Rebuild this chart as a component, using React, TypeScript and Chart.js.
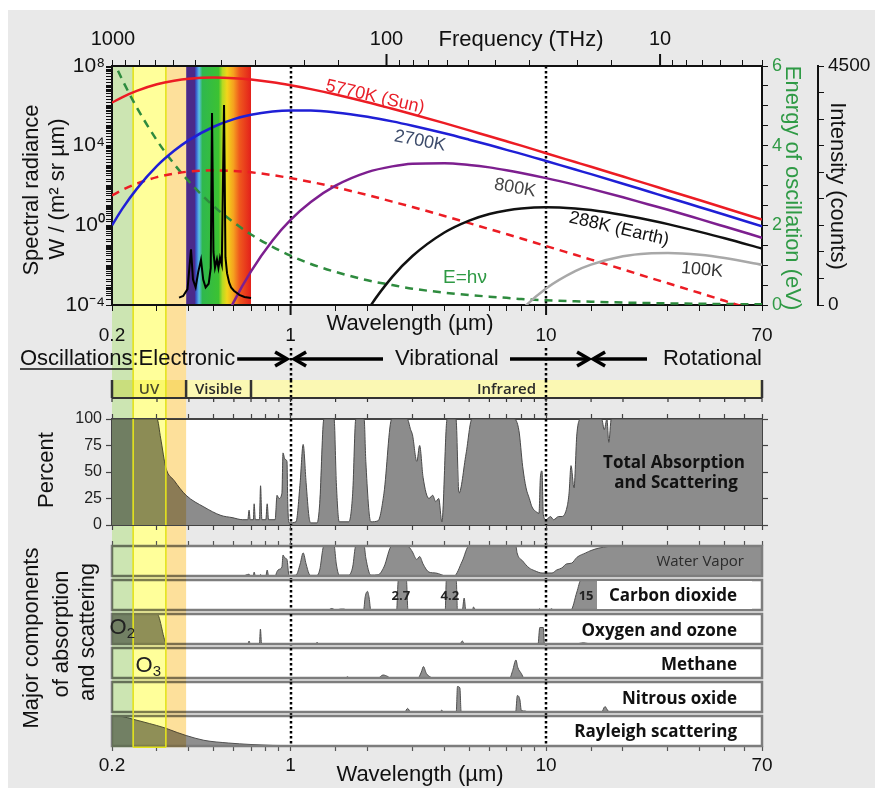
import React, { useEffect, useRef } from 'react';
import { Chart, registerables } from 'chart.js';

Chart.register(...registerables);

const SANS = "'Liberation Sans', Arial, Helvetica, sans-serif";
const BOLD = "'Open Sans', 'Liberation Sans', Arial, sans-serif";
Chart.defaults.font.family = SANS;
Chart.defaults.color = '#111';

// ---------------- DATA: upper panel ----------------
const wavelengths = [0.2, 0.22, 0.25, 0.3, 0.35, 0.4, 0.5, 0.6, 0.7, 0.85, 1, 1.2, 1.5, 2, 2.5, 3, 4, 5, 6, 7, 8, 10, 13, 15, 20, 25, 30, 40, 50, 70];
// log10 of spectral radiance, W/(m2 sr um)
const logRad5770 = [6.16, 6.44, 6.75, 7.08, 7.26, 7.36, 7.42, 7.39, 7.32, 7.18, 7.03, 6.84, 6.57, 6.18, 5.85, 5.58, 5.13, 4.77, 4.47, 4.22, 4.0, 3.62, 3.18, 2.94, 2.45, 2.07, 1.75, 1.26, 0.87, 0.29];
const logRad2700 = [0.0, 0.85, 1.83, 2.98, 3.74, 4.28, 4.95, 5.33, 5.55, 5.71, 5.76, 5.76, 5.67, 5.45, 5.22, 5.0, 4.62, 4.3, 4.03, 3.79, 3.59, 3.23, 2.8, 2.57, 2.09, 1.71, 1.4, 0.91, 0.53, -0.05];
const logRad800 = [null, null, null, null, null, null, -6.04, -3.83, -2.31, -0.76, 0.27, 1.17, 1.99, 2.67, 2.96, 3.09, 3.12, 3.03, 2.91, 2.77, 2.63, 2.37, 2.03, 1.83, 1.41, 1.06, 0.78, 0.31, -0.06, -0.62];
const logRad288 = [null, null, null, null, null, null, null, null, null, null, null, null, -7.27, -4.28, -2.59, -1.54, -0.36, 0.24, 0.57, 0.75, 0.85, 0.91, 0.85, 0.77, 0.52, 0.28, 0.06, -0.33, -0.65, -1.17];
const logRad100 = [null, null, null, null, null, null, null, null, null, null, null, null, null, null, null, null, null, null, null, -5.08, -4.25, -3.17, -2.3, -1.97, -1.55, -1.41, -1.39, -1.48, -1.64, -1.98];
const logSunAtEarth = [1.5, 1.78, 2.09, 2.42, 2.6, 2.7, 2.76, 2.73, 2.66, 2.52, 2.37, 2.18, 1.91, 1.52, 1.19, 0.92, 0.47, 0.11, -0.19, -0.44, -0.66, -1.04, -1.48, -1.72, -2.21, -2.6, -2.91, -3.4, -3.79, -4.37];
const photonEnergyEV = [6.2, 5.64, 4.96, 4.13, 3.54, 3.1, 2.48, 2.07, 1.77, 1.46, 1.24, 1.03, 0.83, 0.62, 0.5, 0.41, 0.31, 0.25, 0.21, 0.18, 0.15, 0.12, 0.095, 0.083, 0.062, 0.05, 0.041, 0.031, 0.025, 0.018];

const spectrumWl = [0.366, 0.38, 0.395, 0.4076, 0.415, 0.425, 0.435, 0.446, 0.455, 0.465, 0.478, 0.487, 0.4926, 0.499, 0.506, 0.515, 0.522, 0.5294, 0.538, 0.5489, 0.556, 0.564, 0.575, 0.585, 0.6, 0.611, 0.63, 0.66, 0.7];
const spectrumCounts = [140, 170, 300, 1050, 480, 330, 620, 850, 480, 330, 400, 700, 3615, 1000, 700, 860, 700, 890, 760, 3766, 900, 600, 420, 330, 270, 240, 190, 150, 130];

// ---------------- DATA: absorption panels (percent) ----------------
const totalWl = [0.2, 0.3, 0.31, 0.325, 0.35, 0.39, 0.458, 0.534, 0.59, 0.65, 0.68, 0.688, 0.695, 0.715, 0.72, 0.728, 0.755, 0.763, 0.772, 0.8, 0.81, 0.82, 0.87, 0.885, 0.9, 0.925, 0.934, 0.95, 0.968, 0.975, 0.986, 1.05, 1.09, 1.12, 1.15, 1.18, 1.2, 1.27, 1.3, 1.35, 1.48, 1.51, 1.55, 1.69, 1.75, 1.8, 1.94, 1.97, 2.06, 2.2, 2.32, 2.49, 2.86, 2.95, 3.0, 3.12, 3.2, 3.3, 3.48, 3.6, 3.7, 3.8, 3.91, 4.1, 4.44, 4.56, 4.86, 5.13, 7.49, 7.83, 8.1, 8.35, 8.6, 8.81, 9.2, 9.38, 9.5, 9.64, 9.75, 10.0, 10.4, 10.7, 11.2, 11.54, 12.08, 12.3, 12.52, 12.86, 13.2, 13.7, 16.5, 16.9, 17.3, 17.6, 18.0, 70];
const totalPct = [100, 100, 82, 54, 42, 28, 17, 9, 7, 5, 5, 14, 5, 5, 20, 5, 5, 37, 5, 5, 20, 5, 5, 28, 25, 30, 68, 62, 60, 20, 2, 3, 40, 76, 40, 8, 2, 2, 20, 100, 100, 40, 3, 3, 30, 100, 100, 60, 3, 4, 30, 100, 100, 90, 85, 60, 75, 45, 25, 28, 22, 25, 3, 100, 100, 30, 67, 100, 100, 89, 55, 35, 25, 17, 12, 11, 45, 51, 10, 5, 8, 5, 8, 8, 17, 30, 56, 35, 86, 100, 100, 90, 100, 78, 100, 100];

const waterWl = [0.2, 0.65, 0.688, 0.695, 0.715, 0.72, 0.728, 0.755, 0.763, 0.772, 0.8, 0.81, 0.82, 0.87, 0.885, 0.9, 0.925, 0.934, 0.95, 0.968, 0.986, 1.05, 1.09, 1.12, 1.15, 1.18, 1.2, 1.27, 1.3, 1.35, 1.48, 1.51, 1.55, 1.69, 1.75, 1.8, 1.94, 1.97, 2.06, 2.2, 2.32, 2.49, 2.86, 2.95, 3.0, 3.12, 3.2, 3.3, 3.48, 3.7, 4.07, 4.36, 4.7, 4.99, 7.62, 7.7, 8.1, 8.58, 9.0, 9.64, 10.55, 11.0, 11.54, 12.0, 12.6, 13.2, 14.3, 15.0, 16.1, 18.8, 70];
const waterPct = [0, 0, 6, 0, 0, 13, 0, 0, 5, 0, 0, 20, 0, 0, 15, 22, 30, 70, 60, 55, 2, 3, 40, 77, 40, 8, 2, 2, 20, 100, 100, 40, 3, 3, 30, 100, 100, 60, 3, 4, 30, 100, 100, 90, 80, 55, 65, 40, 13, 10, 0, 0, 50, 100, 100, 77, 50, 27, 18, 10, 10, 20, 27, 40, 43, 62, 77, 85, 93, 100, 100];

const co2Wl = [0.2, 1.4, 1.45, 1.5, 1.57, 1.62, 1.65, 1.93, 1.96, 2.0, 2.03, 2.06, 2.6, 2.64, 2.84, 2.88, 4.03, 4.07, 4.45, 4.5, 4.7, 4.78, 4.85, 5.15, 5.2, 5.3, 9.3, 9.4, 9.6, 10.3, 10.5, 10.7, 12.5, 13.2, 13.7, 16.5, 17.5, 18.8, 70];
const co2Pct = [0, 0, 5, 0, 3, 3, 0, 0, 45, 62, 40, 0, 0, 100, 100, 0, 0, 100, 100, 0, 0, 40, 0, 0, 10, 0, 0, 4, 0, 0, 4, 0, 0, 60, 100, 100, 30, 0, 0];

const o2o3Wl = [0.2, 0.3, 0.328, 0.68, 0.688, 0.695, 0.755, 0.762, 0.77, 1.26, 1.27, 1.28, 4.6, 4.7, 4.8, 9.3, 9.45, 9.75, 9.85, 13, 14, 15, 70];
const o2o3Pct = [100, 100, 0, 0, 10, 0, 0, 50, 0, 0, 6, 0, 0, 10, 0, 0, 55, 55, 0, 0, 4, 0, 0];

const ch4Wl = [0.2, 1.64, 1.67, 1.7, 2.2, 2.3, 2.4, 2.45, 3.15, 3.25, 3.31, 3.4, 3.5, 3.6, 7.2, 7.4, 7.62, 7.75, 8.0, 8.2, 70];
const ch4Pct = [0, 0, 4, 0, 0, 10, 5, 0, 0, 20, 38, 15, 5, 0, 0, 25, 60, 35, 15, 0, 0];

const n2oWl = [0.2, 2.8, 2.87, 2.95, 3.85, 3.9, 3.98, 4.45, 4.5, 4.6, 4.65, 7.6, 7.72, 7.9, 8.0, 8.3, 8.5, 16.5, 17, 17.5, 18, 70];
const n2oPct = [0, 0, 12, 0, 0, 6, 0, 0, 85, 80, 0, 0, 55, 40, 5, 3, 0, 0, 18, 3, 0, 0];

const rayleighWl = [0.2, 0.22, 0.24, 0.28, 0.32, 0.36, 0.39, 0.458, 0.57, 0.7, 0.85, 1, 2, 70];
const rayleighPct = [100, 98, 90, 75, 61, 45, 35, 19, 10, 5, 2, 1, 0, 0];

// ---------------- categories / tick labels ----------------
const wlTickLabels = [0.2, 1, 10, 70];
const freqTickLabels = [1000, 100, 10];
const bandEdges = [0.2, 0.242, 0.325, 0.39];
const bandColors = ['#cce5b2', '#ffff9a', '#fde09b'];
const visibleRange = [0.39, 0.7];
const regionEdges = [0.2, 0.39, 0.7, 70];
const regionLabels = ['UV', 'Visible', 'Infrared'];
const dottedAt = [1, 10];
const oscBoundary = 15;
const peakLabels = [2.7, 4.2, 15];

// ---------------- layout ----------------
const CW = 875, CH = 788;
const BAND_BOTTOM = 746;
const DOT_RESUME = 348;
const ROW_TOP = 380, ROW_BOTTOM = 398;
const rainbowStops: [number, string][] = [[0, '#4b2a8a'], [0.13, '#4b2a8a'], [0.15, '#3452c6'], [0.2, '#5cc0e8'], [0.25, '#2fb84e'], [0.5, '#3cc232'], [0.56, '#b5da22'], [0.63, '#f2d51a'], [0.73, '#f5a11f'], [0.82, '#ef5a1d'], [1, '#e3201b']];

const isOneOf = (v: number, list: number[]) => list.some(t => Math.abs(v / t - 1) < 1e-6);
const SUP: any = { '-': '\u207B', '0': '\u2070', '1': '\u00B9', '2': '\u00B2', '3': '\u00B3', '4': '\u2074', '5': '\u2075', '6': '\u2076', '7': '\u2077', '8': '\u2078', '9': '\u2079' };
const sup = (n: number) => String(n).split('').map(c => SUP[c]).join('');

function pts(xs: number[], ys: (number | null)[], f = (v: number) => v) {
  const out: any[] = [];
  xs.forEach((x, i) => { const y = ys[i]; if (y !== null && y !== undefined) out.push({ x, y: f(y) }); });
  return out;
}

function txt(ctx: any, s: string, x: number, y: number, font: string, color = '#111', align = 'center', rot = 0) {
  ctx.save();
  ctx.translate(x, y);
  if (rot) ctx.rotate((rot * Math.PI) / 180);
  ctx.font = font;
  ctx.fillStyle = color;
  ctx.textAlign = align;
  ctx.textBaseline = 'middle';
  ctx.fillText(s, 0, 0);
  ctx.restore();
}
function seg(ctx: any, x0: number, y0: number, x1: number, y1: number) {
  ctx.beginPath(); ctx.moveTo(x0, y0); ctx.lineTo(x1, y1); ctx.stroke();
}
function drawBands(ctx: any, xs: any, y0: number, y1: number, multiply: boolean) {
  ctx.save();
  if (multiply) ctx.globalCompositeOperation = 'multiply';
  for (let i = 0; i < bandColors.length; i++) {
    const a = xs.getPixelForValue(bandEdges[i]);
    const b = xs.getPixelForValue(bandEdges[i + 1]);
    ctx.fillStyle = bandColors[i];
    ctx.fillRect(a, y0, b - a, y1 - y0);
  }
  ctx.restore();
}
function drawYellowBox(ctx: any, xs: any, y0: number, y1: number, bottomEdge: boolean) {
  const a = xs.getPixelForValue(bandEdges[1]);
  const b = xs.getPixelForValue(bandEdges[2]);
  ctx.save();
  ctx.strokeStyle = '#e4e41c';
  ctx.lineWidth = 1.6;
  seg(ctx, a, y0, a, y1);
  seg(ctx, b, y0, b, y1);
  if (bottomEdge) seg(ctx, a, y1, b, y1);
  ctx.restore();
}
function drawDotted(ctx: any, xs: any, y0: number, y1: number) {
  ctx.save();
  ctx.strokeStyle = '#000';
  ctx.lineWidth = 2.5;
  ctx.setLineDash([2.5, 2.5]);
  dottedAt.forEach(v => { const x = Math.round(xs.getPixelForValue(v)); seg(ctx, x, y0, x, y1); });
  ctx.restore();
}
function whiteArea(chart: any) {
  const { ctx, chartArea: a } = chart;
  ctx.save(); ctx.fillStyle = '#fff'; ctx.fillRect(a.left, a.top, a.right - a.left, a.bottom - a.top); ctx.restore();
}
function arrow(ctx: any, x0: number, tip: number, y: number) {
  const d = Math.sign(tip - x0);
  ctx.save();
  ctx.strokeStyle = '#000'; ctx.lineWidth = 3.5; ctx.lineJoin = 'miter';
  seg(ctx, x0, y, tip - d * 2, y);
  ctx.beginPath(); ctx.moveTo(tip - d * 12, y - 7); ctx.lineTo(tip, y); ctx.lineTo(tip - d * 12, y + 7); ctx.stroke();
  ctx.restore();
}

const common: any = {
  responsive: false, animation: false, devicePixelRatio: 1, events: [],
  plugins: { legend: { display: false }, tooltip: { enabled: false } },
};

const wlTicks = (padding: number) => ({
  autoSkip: false, maxRotation: 0, padding, font: { size: 19 }, color: '#111',
  callback: (v: any) => (isOneOf(Number(v), wlTickLabels) ? String(Number(v)) : ''),
});

// ---------------- upper chart ----------------
const topPlugin = {
  id: 'topDecor',
  beforeDraw(chart: any) {
    const { ctx, chartArea: a, scales } = chart;
    const xs = scales.x;
    whiteArea(chart);
    const r0 = xs.getPixelForValue(visibleRange[0]);
    const r1 = xs.getPixelForValue(visibleRange[1]);
    const g = ctx.createLinearGradient(r0, 0, r1, 0);
    rainbowStops.forEach(([o, c]) => g.addColorStop(o, c));
    ctx.save(); ctx.fillStyle = g; ctx.fillRect(r0, a.top, r1 - r0, a.bottom - a.top); ctx.restore();
    drawBands(ctx, xs, a.top, BAND_BOTTOM, false);
    drawYellowBox(ctx, xs, a.top, BAND_BOTTOM, true);
    drawDotted(ctx, xs, a.top, a.bottom);
    drawDotted(ctx, xs, DOT_RESUME, BAND_BOTTOM);
  },
  afterDraw(chart: any) {
    const { ctx, chartArea: a, scales } = chart;
    const xs = scales.x, x2 = scales.x2;
    const F = (n: number) => `${n}px ${SANS}`;
    txt(ctx, 'Frequency (THz)', 521, 40, F(22));
    txt(ctx, 'Spectral radiance', 32, 190, F(22), '#111', 'center', -90);
    txt(ctx, 'W / (m\u00B2 sr \u00B5m)', 58, 189, F(22), '#111', 'center', -90);
    txt(ctx, 'Energy of oscillation (eV)', 792, 188, F(22), '#2f9a45', 'center', 90);
    txt(ctx, 'Intensity (counts)', 837, 186, F(22), '#111', 'center', 90);
    txt(ctx, 'Wavelength (\u00B5m)', 410, 324, F(22));
    txt(ctx, '5770K (Sun)', 375, 97, F(18), '#e8202a', 'center', 13);
    txt(ctx, '2700K', 420, 141, F(18), '#3d4c6b', 'center', 11);
    txt(ctx, '800K', 515, 188, F(18), '#454545', 'center', 10);
    txt(ctx, '288K (Earth)', 619, 229, F(18), '#111', 'center', 13);
    txt(ctx, '100K', 702, 270, F(18), '#333', 'center', 5);
    txt(ctx, 'E=h\u03BD', 465, 278, F(19), '#2f9a45');
    ctx.save(); ctx.strokeStyle = '#111'; ctx.lineWidth = 2;
    dottedAt.forEach(v => { const x = xs.getPixelForValue(v); seg(ctx, x, a.bottom, x, a.bottom + 10); });
    [100, 10].forEach(v => { const x = x2.getPixelForValue(v); seg(ctx, x, a.top, x, a.top - 12); });
    ctx.restore();
  },
};

function topConfig() {
  const rad = (vals: (number | null)[], color: string, extra: any = {}) => ({
    data: pts(wavelengths, vals, v => Math.pow(10, v)), xAxisID: 'x', yAxisID: 'y',
    borderColor: color, borderWidth: 2.5, pointRadius: 0, fill: false, cubicInterpolationMode: 'monotone', ...extra,
  });
  const border = { color: '#111', width: 2 };
  const grid = { drawOnChartArea: false, tickLength: 6, color: '#111' };
  return {
    type: 'line',
    data: {
      datasets: [
        { data: pts(spectrumWl, spectrumCounts), xAxisID: 'x', yAxisID: 'yI', borderColor: '#000', borderWidth: 2, pointRadius: 0, tension: 0, fill: false },
        rad(logRad5770, '#ec1c24'),
        rad(logRad2700, '#1f1fd6'),
        rad(logRad800, '#7d1f8f'),
        rad(logRad288, '#111111'),
        rad(logRad100, '#a8a8a8'),
        rad(logSunAtEarth, '#ec1c24', { borderDash: [8, 6] }),
        { data: pts(wavelengths, photonEnergyEV), xAxisID: 'x', yAxisID: 'yE', borderColor: '#2e8b3e', borderWidth: 2.5, borderDash: [8, 6], pointRadius: 0, fill: false, cubicInterpolationMode: 'monotone' },
      ],
    },
    options: {
      ...common,
      layout: { padding: { left: 0, right: 0, top: 0, bottom: CH - 305 - 60 } },
      scales: {
        x: { type: 'logarithmic', position: 'bottom', min: 0.2, max: 70, afterFit: (s: any) => { s.height = 60; }, grid, border, ticks: wlTicks(13) },
        x2: {
          type: 'logarithmic', position: 'top', reverse: true, min: 4.24, max: 1008, afterFit: (s: any) => { s.height = 66; }, grid, border,
          ticks: { autoSkip: false, maxRotation: 0, padding: 9, font: { size: 20 }, color: '#111', callback: (v: any) => (isOneOf(Number(v), freqTickLabels) ? String(Number(v)) : '') },
        },
        y: {
          type: 'logarithmic', position: 'left', min: 1e-4, max: 1e8, afterFit: (s: any) => { s.width = 112; }, grid, border,
          ticks: {
            autoSkip: false, padding: 1, font: { size: 21 }, color: '#111',
            callback: (v: any) => { const l = Math.log10(Number(v)); const e = Math.round(l); return Math.abs(l - e) < 1e-6 && e % 4 === 0 ? '10' + sup(e) : ''; },
          },
        },
        yE: {
          type: 'linear', position: 'right', weight: 0, min: 0, max: 6, afterFit: (s: any) => { s.width = 56; }, grid, border,
          ticks: { stepSize: 0.5, autoSkip: false, padding: 4, font: { size: 18 }, color: '#2f9a45', callback: (v: any) => (Number(v) % 2 === 0 ? String(v) : '') },
        },
        yI: {
          type: 'linear', position: 'right', weight: 1, min: 0, max: 4500, afterFit: (s: any) => { s.width = 57; }, grid, border,
          ticks: { stepSize: 500, autoSkip: false, padding: 4, font: { size: 19 }, color: '#111', callback: (v: any) => (Number(v) === 0 || Number(v) === 4500 ? String(v) : '') },
        },
      },
    },
    plugins: [topPlugin],
  };
}

// ---------------- percent chart ----------------
const percentPlugin = {
  id: 'pctDecor',
  beforeDraw(chart: any) { whiteArea(chart); },
  afterDatasetsDraw(chart: any) {
    const { ctx, chartArea: a, scales } = chart;
    const xs = scales.x;
    drawBands(ctx, xs, a.top, a.bottom, true);
    drawYellowBox(ctx, xs, a.top, a.bottom, false);
    drawDotted(ctx, xs, a.top, a.bottom);
    txt(ctx, 'Total Absorption', 674, 463, `bold 17px ${BOLD}`, '#111');
    txt(ctx, 'and Scattering', 676, 483, `bold 17px ${BOLD}`, '#111');
  },
  afterDraw(chart: any) {
    const { ctx, scales } = chart;
    const xs = scales.x;
    const L = xs.getPixelForValue(regionEdges[0]);
    const R = xs.getPixelForValue(regionEdges[regionEdges.length - 1]);
    ctx.save();
    ctx.fillStyle = '#fbf8b3';
    ctx.fillRect(L, ROW_TOP, R - L, ROW_BOTTOM - ROW_TOP);
    ctx.restore();
    drawBands(ctx, xs, ROW_TOP, ROW_BOTTOM, true);
    drawYellowBox(ctx, xs, ROW_TOP, ROW_BOTTOM, false);
    drawDotted(ctx, xs, ROW_TOP, ROW_BOTTOM);
    ctx.save();
    ctx.strokeStyle = '#333';
    ctx.lineWidth = 2;
    seg(ctx, L, ROW_BOTTOM, R, ROW_BOTTOM);
    ctx.lineWidth = 1.2;
    xs.ticks.forEach((t: any) => { const px = xs.getPixelForValue(t.value); seg(ctx, px, ROW_BOTTOM, px, ROW_BOTTOM + 4); });
    ctx.lineWidth = 2.5;
    regionEdges.forEach(v => { const px = xs.getPixelForValue(v); seg(ctx, px, ROW_TOP, px, ROW_BOTTOM); });
    ctx.restore();
    regionLabels.forEach((s, i) => {
      const cx = (xs.getPixelForValue(regionEdges[i]) + xs.getPixelForValue(regionEdges[i + 1])) / 2;
      txt(ctx, s, cx, 389.5, `600 15px ${BOLD}`, i === 0 ? '#4a4a2a' : '#2a2a2a');
    });
    // oscillation row
    const F = `22px ${SANS}`;
    const oy = 359;
    ctx.save();
    ctx.font = F;
    const wOsc = ctx.measureText('Oscillations').width;
    const wAll = ctx.measureText('Oscillations:Electronic').width;
    ctx.restore();
    txt(ctx, 'Oscillations:Electronic', 20, oy, F, '#111', 'left');
    ctx.save(); ctx.strokeStyle = '#111'; ctx.lineWidth = 1.5; seg(ctx, 20, oy + 10, 20 + wOsc, oy + 10); ctx.restore();
    const x1 = xs.getPixelForValue(dottedAt[0]);
    const x15 = xs.getPixelForValue(oscBoundary);
    arrow(ctx, 20 + wAll + 2, x1 - 3.5, oy);
    arrow(ctx, 383, x1 + 3.5, oy);
    txt(ctx, 'Vibrational', 395, oy, F, '#111', 'left');
    arrow(ctx, 510, x15 - 2, oy);
    arrow(ctx, 647, x15 + 2, oy);
    txt(ctx, 'Rotational', 762, oy, F, '#111', 'right');
    // side labels
    txt(ctx, 'Percent', 47, 470, F, '#111', 'center', -90);
    txt(ctx, 'Major components', 32, 638, F, '#111', 'center', -90);
    txt(ctx, 'of absorption', 62, 634, F, '#111', 'center', -90);
    txt(ctx, 'and scattering', 88, 632, F, '#111', 'center', -90);
  },
};

function percentConfig() {
  const grid = { drawOnChartArea: false, tickLength: 5, color: '#444', tickWidth: 1.2 };
  const border = { color: '#444', width: 2 };
  return {
    type: 'line',
    data: { datasets: [{ data: pts(totalWl, totalPct), fill: 'origin', backgroundColor: '#8c8c8c', borderColor: '#4a4a4a', borderWidth: 1, pointRadius: 0, cubicInterpolationMode: 'monotone' }] },
    options: {
      ...common,
      layout: { padding: { left: 0, right: 105, top: 414, bottom: CH - 525 - 5 } },
      scales: {
        x: { type: 'logarithmic', position: 'bottom', min: 0.2, max: 70, afterFit: (s: any) => { s.height = 5; }, grid, border, ticks: { display: false, autoSkip: false } },
        xT: { type: 'logarithmic', position: 'top', min: 0.2, max: 70, afterFit: (s: any) => { s.height = 5; }, grid, border, ticks: { display: false, autoSkip: false } },
        y: { type: 'linear', position: 'left', min: 0, max: 100, afterFit: (s: any) => { s.width = 112; }, grid: { ...grid, tickLength: 6 }, border, ticks: { stepSize: 25, padding: 4, font: { size: 16 }, color: '#222' } },
        yR: { type: 'linear', position: 'right', min: 0, max: 100, afterFit: (s: any) => { s.width = 8; }, grid: { ...grid, tickLength: 6 }, border, ticks: { display: false, stepSize: 25 } },
      },
    },
    plugins: [percentPlugin],
  };
}

// ---------------- component strips ----------------
const LBL = `bold 17px ${BOLD}`;
const strips: any[] = [
  { wl: waterWl, pct: waterPct, top: 546, bottom: 576, topTicks: true, labels: [{ t: 'Water Vapor', x: 744, y: 562, font: `15px ${BOLD}`, color: '#2b2b2b', align: 'right' }] },
  {
    wl: co2Wl, pct: co2Pct, top: 580, bottom: 610, box: [597, 581, 752, 609],
    labels: [{ t: 'Carbon dioxide', x: 737, y: 596, font: LBL, color: '#111', align: 'right' }],
    peaks: true,
  },
  { wl: o2o3Wl, pct: o2o3Pct, top: 614, bottom: 644, labels: [{ t: 'Oxygen and ozone', x: 737, y: 631, font: LBL, color: '#111', align: 'right' }], chem: ['2', 118, 628] },
  { wl: ch4Wl, pct: ch4Pct, top: 648, bottom: 678, labels: [{ t: 'Methane', x: 737, y: 665, font: LBL, color: '#111', align: 'right' }], chem: ['3', 144, 666] },
  { wl: n2oWl, pct: n2oPct, top: 682, bottom: 712, labels: [{ t: 'Nitrous oxide', x: 737, y: 699, font: LBL, color: '#111', align: 'right' }] },
  { wl: rayleighWl, pct: rayleighPct, top: 716, bottom: 746, bottomAxis: true, labels: [{ t: 'Rayleigh scattering', x: 737, y: 732, font: LBL, color: '#111', align: 'right' }] },
];

function stripPlugin(s: any) {
  return {
    id: 'stripDecor',
    beforeDraw(chart: any) { whiteArea(chart); },
    afterDatasetsDraw(chart: any) {
      const { ctx, chartArea: a, scales } = chart;
      const xs = scales.x;
      ctx.save();
      ctx.strokeStyle = '#7d7d7d'; ctx.lineWidth = 2.5;
      ctx.strokeRect(a.left, a.top, a.right - a.left, a.bottom - a.top);
      ctx.restore();
      drawBands(ctx, xs, a.top - 1.25, a.bottom + 1.25, true);
      drawYellowBox(ctx, xs, a.top - 1.25, a.bottom + 1.25, !!s.bottomAxis);
      drawDotted(ctx, xs, a.top, a.bottom);
      if (s.box) {
        ctx.save(); ctx.fillStyle = '#fff'; ctx.fillRect(s.box[0], s.box[1], s.box[2] - s.box[0], s.box[3] - s.box[1]); ctx.restore();
      }
      if (s.peaks) {
        peakLabels.forEach((v, i) => {
          const px = xs.getPixelForValue(v) + (i === 2 ? -5 : 0);
          txt(ctx, String(v), px, 596, `bold 13px ${BOLD}`, '#222');
        });
      }
      if (s.chem) {
        const [n, cx, cy] = s.chem;
        txt(ctx, 'O', cx, cy, `22px ${SANS}`, '#222');
        txt(ctx, n, cx + 13, cy + 6, `15px ${SANS}`, '#222');
      }
      s.labels.forEach((l: any) => txt(ctx, l.t, l.x, l.y, l.font, l.color, l.align));
      if (s.bottomAxis) txt(ctx, 'Wavelength (\u00B5m)', 420, 775, `22px ${SANS}`);
    },
  };
}

function stripConfig(s: any) {
  const tickGrid = { drawOnChartArea: false, tickLength: 5, color: '#555', tickWidth: 1.2 };
  const scales: any = {
    x: { type: 'logarithmic', position: 'bottom', min: 0.2, max: 70, display: !!s.bottomAxis },
    y: { type: 'linear', min: 0, max: 100, display: false },
  };
  if (s.bottomAxis) {
    Object.assign(scales.x, { afterFit: (sc: any) => { sc.height = 42; }, grid: tickGrid, border: { display: false }, ticks: wlTicks(3) });
  }
  if (s.topTicks) {
    scales.xT = { type: 'logarithmic', position: 'top', min: 0.2, max: 70, afterFit: (sc: any) => { sc.height = 5; }, grid: tickGrid, border: { display: false }, ticks: { display: false, autoSkip: false } };
  }
  return {
    type: 'line',
    data: {
      datasets: [{
        data: pts(s.wl, s.pct), fill: 'origin', backgroundColor: '#8f8f8f', borderColor: '#505050', borderWidth: 1, pointRadius: 0,
        cubicInterpolationMode: 'monotone',
      }],
    },
    options: {
      ...common,
      layout: { padding: { left: 112, right: CW - 762, top: s.top - (s.topTicks ? 5 : 0), bottom: CH - s.bottom - (s.bottomAxis ? 42 : 0) } },
      scales,
    },
    plugins: [stripPlugin(s)],
  };
}

export default function App() {
  const refs = useRef<(HTMLCanvasElement | null)[]>([]);
  const count = 2 + strips.length;
  useEffect(() => {
    const configs: any[] = [topConfig(), percentConfig(), ...strips.map(stripConfig)];
    const charts = configs.map((cfg, i) => new Chart(refs.current[i] as HTMLCanvasElement, cfg));
    return () => charts.forEach(c => c.destroy());
  }, []);
  return (
    <div style={{ position: 'absolute', left: 0, top: 0, width: CW, height: CH, background: '#fff', overflow: 'hidden' }}>
      <div style={{ position: 'absolute', left: 8, top: 10, right: 0, bottom: 0, background: '#e9e9e9' }} />
      {Array.from({ length: count }).map((_, i) => (
        <canvas
          key={i}
          ref={el => { refs.current[i] = el; }}
          width={CW}
          height={CH}
          style={{ position: 'absolute', left: 0, top: 0 }}
        />
      ))}
    </div>
  );
}
